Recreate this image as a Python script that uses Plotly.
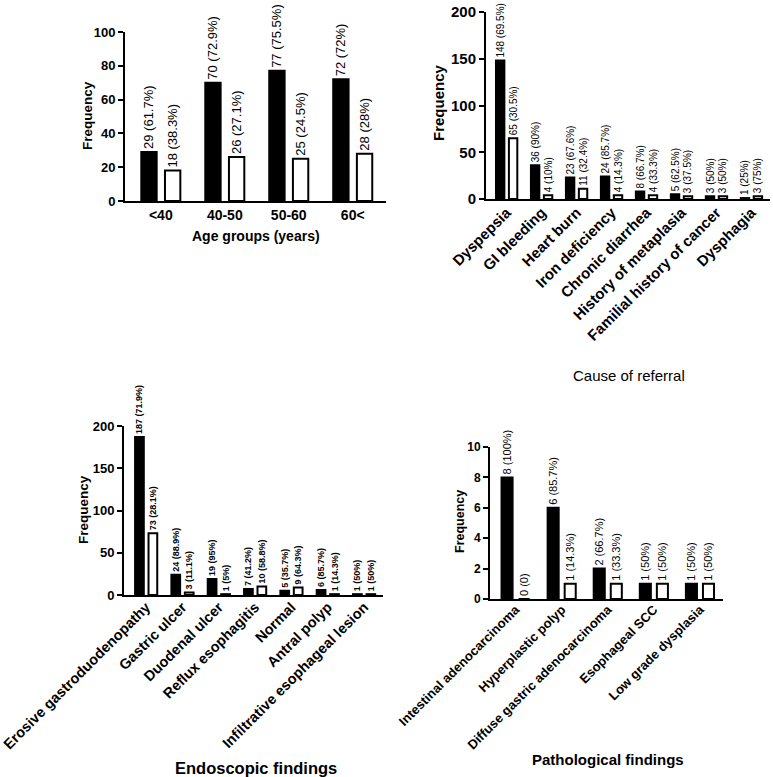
import plotly.graph_objects as go

FONT = "Liberation Sans, Arial, sans-serif"

# ---------------- Data ----------------
age_groups = ["<40", "40-50", "50-60", "60<"]
age_black = [29, 70, 77, 72]
age_white = [18, 26, 25, 28]
age_black_lbl = ["29 (61.7%)", "70 (72.9%)", "77 (75.5%)", "72 (72%)"]
age_white_lbl = ["18 (38.3%)", "26 (27.1%)", "25 (24.5%)", "28 (28%)"]

referral = ["Dyspepsia", "GI bleeding", "Heart burn", "Iron deficiency",
            "Chronic diarrhea", "History of metaplasia",
            "Familial history of cancer", "Dysphagia"]
ref_black = [148, 36, 23, 24, 8, 5, 3, 1]
ref_white = [65, 4, 11, 4, 4, 3, 3, 3]
ref_black_lbl = ["148 (69.5%)", "36 (90%)", "23 (67.6%)", "24 (85.7%)",
                 "8 (66.7%)", "5 (62.5%)", "3 (50%)", "1 (25%)"]
ref_white_lbl = ["65 (30.5%)", "4 (10%)", "11 (32.4%)", "4 (14.3%)",
                 "4 (33.3%)", "3 (37.5%)", "3 (50%)", "3 (75%)"]

endo = ["Erosive gastroduodenopathy", "Gastric ulcer", "Duodenal ulcer",
        "Reflux esophagitis", "Normal", "Antral polyp",
        "Infiltrative esophageal lesion"]
endo_black = [187, 24, 19, 7, 5, 6, 1]
endo_white = [73, 3, 1, 10, 9, 1, 1]
endo_black_lbl = ["187 (71.9%)", "24 (88.9%)", "19 (95%)", "7 (41.2%)",
                  "5 (35.7%)", "6 (85.7%)", "1 (50%)"]
endo_white_lbl = ["73 (28.1%)", "3 (11.1%)", "1 (5%)", "10 (58.8%)",
                  "9 (64.3%)", "1 (14.3%)", "1 (50%)"]

patho = ["Intestinal adenocarcinoma", "Hyperplastic polyp",
         "Diffuse gastric adenocarcinoma", "Esophageal SCC",
         "Low grade dysplasia"]
patho_black = [8, 6, 2, 1, 1]
patho_white = [0, 1, 1, 1, 1]
patho_black_lbl = ["8 (100%)", "6 (85.7%)", "2 (66.7%)", "1 (50%)", "1 (50%)"]
patho_white_lbl = ["0 (0)", "1 (14.3%)", "1 (33.3%)", "1 (50%)", "1 (50%)"]

W, H = 773, 777

fig = go.Figure()

def add_pair(cats, yb, yw, lb, lw, ax, fsize, fweight):
    xa = "x" if ax == 1 else f"x{ax}"
    ya = "y" if ax == 1 else f"y{ax}"
    for vals, lbls, fill, off in [(yb, lb, "black", -0.305), (yw, lw, "white", 0.065)]:
        fig.add_trace(go.Bar(
            x=cats, y=vals, xaxis=xa, yaxis=ya,
            width=0.24, offset=off,
            marker=dict(color=fill, line=dict(color="black", width=2)),
            text=lbls, textposition="outside", textangle=-90,
            cliponaxis=False, constraintext="none",
            textfont=dict(family=FONT, size=fsize, color="black", weight=fweight),
            showlegend=False, hoverinfo="skip",
        ))

add_pair(age_groups, age_black, age_white, age_black_lbl, age_white_lbl, 1, 13, "normal")
add_pair(referral, ref_black, ref_white, ref_black_lbl, ref_white_lbl, 2, 10, "normal")
add_pair(endo, endo_black, endo_white, endo_black_lbl, endo_white_lbl, 3, 9, "bold")
add_pair(patho, patho_black, patho_white, patho_black_lbl, patho_white_lbl, 4, 11, "normal")

def px_x(a, b):
    return [a / W, b / W]

def px_y(bottom, top):
    return [(H - bottom) / H, (H - top) / H]

def xaxis(dom, rng, anchor, size, angle, standoff=0):
    return dict(domain=dom, range=rng, anchor=anchor, showline=True, linewidth=2,
                linecolor="black", ticks="", showgrid=False, zeroline=False,
                tickangle=angle, type="category", automargin=False,
                ticklabelstandoff=standoff,
                tickfont=dict(family=FONT, size=size, color="black", weight="bold"))

def yaxis(dom, rng, dtick, anchor, size):
    return dict(domain=dom, range=rng, anchor=anchor, dtick=dtick, showline=True,
                linewidth=2, linecolor="black", ticks="outside", ticklen=5,
                tickwidth=2, tickcolor="black", showgrid=False, zeroline=False,
                automargin=False,
                tickfont=dict(family=FONT, size=size, color="black", weight="bold"))

def ann(text, x, y, size, weight="bold", angle=0):
    return dict(text=text, x=x / W, y=(H - y) / H, xref="paper", yref="paper",
                showarrow=False, xanchor="center", yanchor="middle", textangle=angle,
                font=dict(family=FONT, size=size, color="black", weight=weight))

fig.update_layout(
    width=W, height=H, margin=dict(l=0, r=0, t=0, b=0, autoexpand=False),
    paper_bgcolor="white", plot_bgcolor="white", barmode="overlay",
    xaxis=xaxis(px_x(125, 386), [-0.56, 3.52], "y", 14, 0),
    yaxis=yaxis(px_y(201, 32), [0, 100], 20, "x", 13),
    xaxis2=xaxis(px_x(486, 770), [-0.59, 7.53], "y2", 15, -45, -3),
    yaxis2=yaxis(px_y(199, 12), [0, 200], 50, "x2", 15),
    xaxis3=xaxis(px_x(124, 383), [-0.61, 6.52], "y3", 14.5, -45, -4),
    yaxis3=yaxis(px_y(595, 426), [0, 200], 50, "x3", 13),
    xaxis4=xaxis(px_x(490, 723), [-0.555, 4.5], "y4", 13, -45, -4),
    yaxis4=yaxis(px_y(599, 447), [0, 10], 2, "x4", 12),
    annotations=[
        ann("Frequency", 87, 116, 13.5, angle=-90),
        ann("Age groups (years)", 256, 236, 14),
        ann("Frequency", 438, 103, 15, angle=-90),
        ann("Cause of referral", 629, 375, 15, weight="normal"),
        ann("Frequency", 83, 510, 13.5, angle=-90),
        ann("Endoscopic findings", 256, 768, 16.5),
        ann("Frequency", 460, 522, 12.5, angle=-90),
        ann("Pathological findings", 608, 759, 15),
    ],
)

fig.write_html("out.html",
               config={"displayModeBar": False},
               post_script="document.body.style.margin='0px';document.body.style.overflow='hidden';")
